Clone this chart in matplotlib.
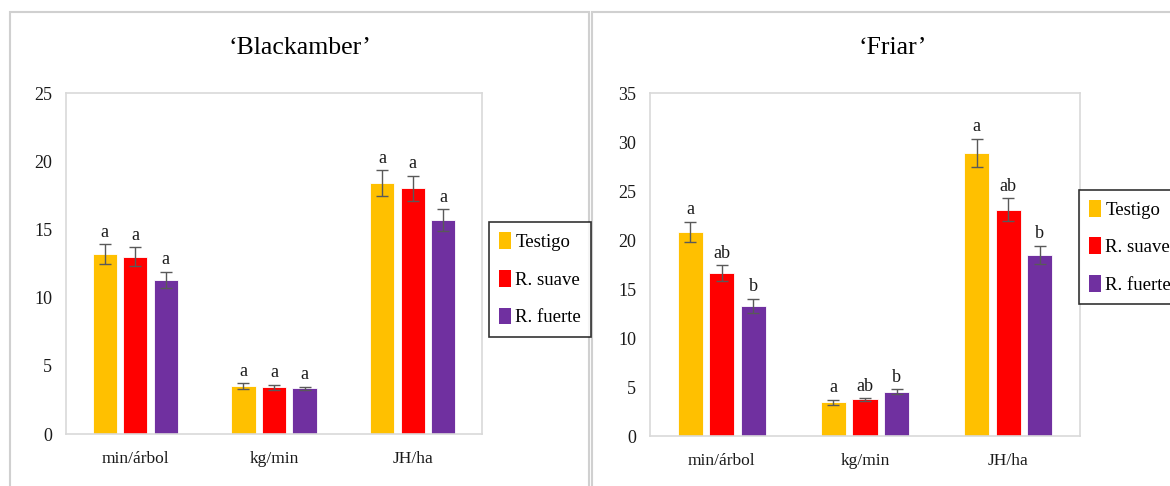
import matplotlib
matplotlib.use("Agg")
import matplotlib.pyplot as plt
from matplotlib.patches import Rectangle, Patch
import numpy as np

plt.rcParams['font.family'] = ['Liberation Serif', 'DejaVu Serif']

categories = ["min/árbol", "kg/min", "JH/ha"]
treatments = ["Testigo", "R. suave", "R. fuerte"]
colors = ["#FFC000", "#FF0000", "#7030A0"]

# 'Blackamber'
black_means = {
    "Testigo":   [13.2, 3.52, 18.4],
    "R. suave":  [13.0, 3.42, 18.0],
    "R. fuerte": [11.3, 3.35, 15.7],
}
black_err = {
    "Testigo":   [0.7, 0.2, 0.95],
    "R. suave":  [0.7, 0.2, 0.95],
    "R. fuerte": [0.6, 0.12, 0.8],
}
black_letters = {
    "Testigo":   ["a", "a", "a"],
    "R. suave":  ["a", "a", "a"],
    "R. fuerte": ["a", "a", "a"],
}

# 'Friar'
friar_means = {
    "Testigo":   [20.8, 3.44, 28.9],
    "R. suave":  [16.6, 3.74, 23.1],
    "R. fuerte": [13.3, 4.52, 18.5],
}
friar_err = {
    "Testigo":   [1.05, 0.25, 1.45],
    "R. suave":  [0.8, 0.12, 1.15],
    "R. fuerte": [0.7, 0.25, 0.9],
}
friar_letters = {
    "Testigo":   ["a", "a", "a"],
    "R. suave":  ["ab", "ab", "ab"],
    "R. fuerte": ["b", "b", "b"],
}

fig = plt.figure(figsize=(11.7, 4.86), dpi=100)

# panel frames
for x0, x1 in [(10, 589), (592, 1172)]:
    fig.patches.append(Rectangle((x0 / 1170, -0.01), (x1 - x0) / 1170, 0.985,
                                 transform=fig.transFigure, fill=False,
                                 edgecolor="#d0d0d0", linewidth=1.5, zorder=0))


def draw_panel(rect, means, errs, letters, ymax, ystep, title, title_x, legend_anchor):
    ax = fig.add_axes(rect)
    x = np.arange(len(categories))
    step = 0.22
    width = 0.175
    for i, t in enumerate(treatments):
        pos = x + (i - 1) * step
        ax.bar(pos, means[t], width=width, color=colors[i], edgecolor="white",
               linewidth=0.6, zorder=2)
        ax.errorbar(pos, means[t], yerr=errs[t], fmt="none", ecolor="#595959",
                    elinewidth=1.0, capsize=4, capthick=1.0, zorder=3)
        for p, m, e, lab in zip(pos, means[t], errs[t], letters[t]):
            ax.text(p, m + e + ymax * 0.01, lab, ha="center", va="bottom",
                    fontsize=13, color="#1a1a1a")
    ax.set_xlim(-0.5, len(categories) - 0.5)
    ax.set_ylim(0, ymax)
    ax.set_yticks(np.arange(0, ymax + 0.01, ystep))
    ax.set_xticks(x)
    ax.set_xticklabels(categories, fontsize=12.5)
    ax.tick_params(axis="both", length=0, labelsize=13, colors="#1a1a1a")
    ax.tick_params(axis="x", labelsize=12.5, pad=12)
    ax.tick_params(axis="y", pad=10)
    for s in ax.spines.values():
        s.set_color("#d9d9d9")
        s.set_linewidth(1.2)
    fig.text(title_x, 0.901, title, ha="center", va="center", fontsize=18.5)
    handles = [Patch(facecolor=c, edgecolor="none") for c in colors]
    leg = fig.legend(handles, treatments, loc="center left", bbox_to_anchor=legend_anchor,
                     bbox_transform=fig.transFigure, fontsize=13.5, frameon=True,
                     fancybox=False, edgecolor="black", handlelength=0.6, handleheight=1.0,
                     handletextpad=0.25, labelspacing=1.0, borderpad=0.55, borderaxespad=0)
    leg.get_frame().set_linewidth(1.2)
    return ax


draw_panel([66 / 1170, 52 / 486, 416 / 1170, 341 / 486], black_means, black_err, black_letters,
           25, 5, "‘Blackamber’", 300 / 1170, (489 / 1170, 0.425))
draw_panel([650 / 1170, 50 / 486, 430 / 1170, 343 / 486], friar_means, friar_err, friar_letters,
           35, 5, "‘Friar’", 893 / 1170, (1079 / 1170, 0.492))

fig.savefig("out.png", dpi=100, facecolor="white")
